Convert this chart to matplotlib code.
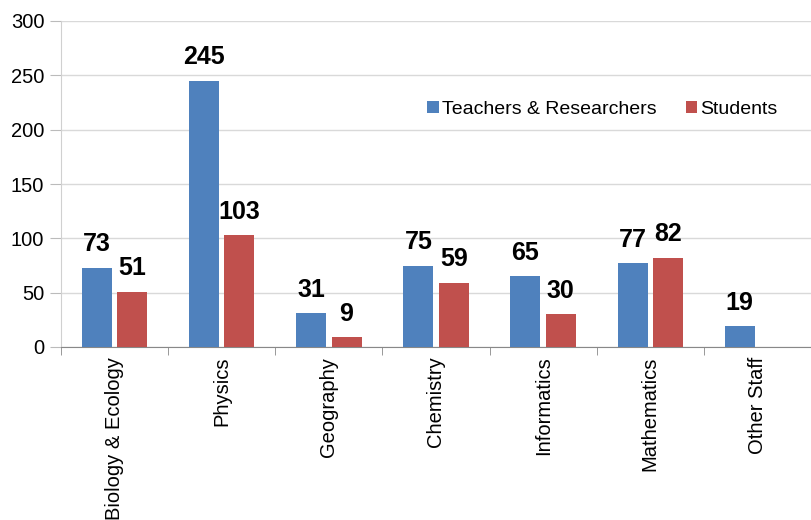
import matplotlib
matplotlib.use("Agg")
import matplotlib.pyplot as plt
import numpy as np

categories = ["Biology & Ecology", "Physics", "Geography", "Chemistry",
              "Informatics", "Mathematics", "Other Staff"]
teachers = [73, 245, 31, 75, 65, 77, 19]
students = [51, 103, 9, 59, 30, 82, None]
series_names = ["Teachers & Researchers", "Students"]
yticks = [0, 50, 100, 150, 200, 250, 300]

plt.rcParams['font.family'] = ['Liberation Sans', 'DejaVu Sans']

fig = plt.figure(figsize=(8.11, 5.2), dpi=100)
ax = fig.add_axes([61/811, 1-347/520, 750/811, 326/520])

x = np.arange(len(categories))
w = 0.28
off = 0.165
blue = "#4F81BD"
red = "#C0504D"

tv = [v if v is not None else 0 for v in teachers]
sv = [v if v is not None else 0 for v in students]
ax.bar(x - off, tv, width=w, color=blue, label=series_names[0], zorder=3)
ax.bar(x + off, sv, width=w, color=red, label=series_names[1], zorder=3)

for i, v in enumerate(teachers):
    if v is not None:
        ax.text(x[i] - off, v + 10.5, str(v), ha="center", va="bottom",
                fontsize=18, fontweight="bold")
for i, v in enumerate(students):
    if v is not None:
        ax.text(x[i] + off, v + 10.5, str(v), ha="center", va="bottom",
                fontsize=18, fontweight="bold")

ax.set_xlim(-0.5, len(categories) - 0.5)
ax.set_ylim(0, 300)
ax.set_yticks(yticks)
ax.set_yticklabels([str(t) for t in yticks], fontsize=14.5)
ax.set_xticks(x)
ax.set_xticklabels(categories, rotation=90, fontsize=14.5)
ax.set_xticks(np.arange(len(categories) + 1) - 0.5, minor=True)
ax.tick_params(axis="x", which="major", length=0, pad=7)
ax.tick_params(axis="x", which="minor", length=6, color="#888888")
ax.tick_params(axis="y", length=8, color="#bbbbbb", pad=4)

ax.yaxis.grid(True, color="#d9d9d9", linewidth=1, zorder=0)
ax.set_axisbelow(True)
for s in ["top", "right"]:
    ax.spines[s].set_visible(False)
ax.spines["left"].set_color("#d0d0d0")
ax.spines["bottom"].set_color("#888888")

ax.legend(loc="center", bbox_to_anchor=(0.722, 0.73), ncol=2, frameon=False,
          fontsize=14, handlelength=0.6, handleheight=0.6, handletextpad=0.15,
          columnspacing=1.5)

fig.savefig("out.png", dpi=100)
